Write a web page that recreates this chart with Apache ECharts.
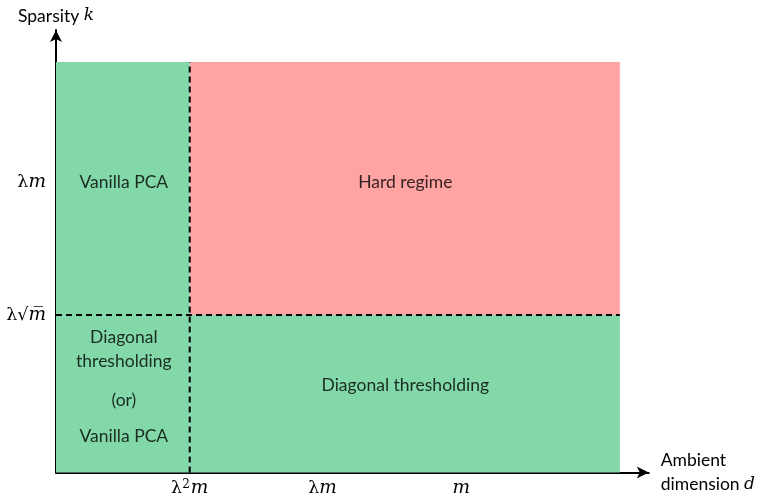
<!DOCTYPE html>
<html>
<head>
<meta charset="utf-8">
<script src="https://cdn.jsdelivr.net/npm/echarts@6/dist/echarts.min.js"></script>
<style>
  html, body { margin: 0; padding: 0; background: #fff; }
  #chart { width: 758px; height: 498px; }
</style>
</head>
<body>
<div id="chart"></div>
<script>
// abstract units: x 0..594 (d), y 0..444 (k)
const xMax = 594
const yMax = 444
const xSplit = 134      // λ²m
const xEnd = 565        // right edge of regions
const ySplit = 158      // λ√m
const yEnd = 412        // top edge of regions

const xTicks = [134, 267, 406]
const xTickLabels = ['{l|λ}{s|2}{m|m}', '{l|λ}{m|m}', '{m|m}']
const yTicks = [158, 291]
const yTickLabels = ['{l|λ√}{m|m̅}', '{l|λ}{m|m}']

// regions: [x0, y0, x1, y1, colour]
const regions = [
  [0, 0, xSplit, yEnd, '#82d8a9'],
  [xSplit, ySplit, xEnd, yEnd, '#ffa3a3'],
  [xSplit, 0, xEnd, ySplit, '#82d8a9']
]

// region texts: [x, y, text]
const regionTexts = [
  [68, 291, 'Vanilla PCA'],
  [350, 291, 'Hard regime'],
  [350, 87, 'Diagonal thresholding'],
  [68, 136, 'Diagonal'],
  [68, 112, 'thresholding'],
  [68, 72, '(or)'],
  [68, 36, 'Vanilla PCA']
]

const mathRich = {
  l: { fontFamily: 'DejaVu Serif', fontSize: 17.5, color: '#000' },
  m: { fontFamily: 'DejaVu Serif', fontStyle: 'italic', fontSize: 18.5, color: '#000' },
  s: { fontFamily: 'DejaVu Serif', fontSize: 12, color: '#000', verticalAlign: 'top', padding: [0, 1, 8, 0] }
}

const chart = echarts.init(document.getElementById('chart'))

chart.setOption({
  animation: false,
  grid: { left: 56, top: 30, width: 594, height: 444 },
  xAxis: {
    type: 'value', min: 0, max: xMax,
    splitLine: { show: false },
    axisLine: { lineStyle: { color: '#000', width: 2 }, symbol: ['none', 'arrow'], symbolSize: [9, 12] },
    axisTick: { show: false },
    axisLabel: {
      customValues: xTicks,
      margin: 6,
      formatter: v => xTickLabels[xTicks.indexOf(v)],
      rich: mathRich
    },
    name: '{t|Ambient}\n{t|dimension }{i|d}',
    nameLocation: 'end',
    nameGap: 12,
    nameTextStyle: {
      align: 'left',
      lineHeight: 24,
      rich: {
        t: { fontFamily: 'Lato', fontSize: 17.5, color: '#000', lineHeight: 24 },
        i: { fontFamily: 'DejaVu Serif', fontStyle: 'italic', fontSize: 17, color: '#000', lineHeight: 24 }
      }
    }
  },
  yAxis: {
    type: 'value', min: 0, max: yMax,
    splitLine: { show: false },
    axisLine: { lineStyle: { color: '#000', width: 2 }, symbol: ['none', 'arrow'], symbolSize: [9, 12] },
    axisTick: { show: false },
    axisLabel: {
      customValues: yTicks,
      margin: 10,
      formatter: v => yTickLabels[yTicks.indexOf(v)],
      rich: mathRich
    },
    name: '{t|Sparsity }{i|k}',
    nameLocation: 'end',
    nameGap: 5,
    nameTextStyle: {
      rich: {
        t: { fontFamily: 'Lato', fontSize: 17.5, color: '#000' },
        i: { fontFamily: 'DejaVu Serif', fontStyle: 'italic', fontSize: 17, color: '#000' }
      }
    }
  },
  series: [
    {
      type: 'custom',
      z: 1,
      data: regions,
      renderItem: (params, api) => {
        const p0 = api.coord([api.value(0), api.value(1)])
        const p1 = api.coord([api.value(2), api.value(3)])
        return {
          type: 'rect',
          shape: { x: p0[0], y: p1[1], width: p1[0] - p0[0], height: p0[1] - p1[1] },
          style: { fill: regions[params.dataIndex][4] }
        }
      }
    },
    {
      type: 'line', z: 3, symbol: 'none',
      data: [[xSplit, 0], [xSplit, yEnd]],
      lineStyle: { color: '#000', width: 2, type: [6, 4] }
    },
    {
      type: 'line', z: 3, symbol: 'none',
      data: [[0, ySplit], [xEnd, ySplit]],
      lineStyle: { color: '#000', width: 2, type: [6, 4] }
    },
    {
      type: 'scatter', z: 4, symbolSize: 0,
      data: regionTexts.map(d => [d[0], d[1], d[2]]),
      label: {
        show: true, position: 'inside',
        formatter: p => p.value[2],
        fontFamily: 'Lato', fontSize: 17.5, color: '#000',
        textBorderWidth: 0
      }
    }
  ]
})
</script>
</body>
</html>
